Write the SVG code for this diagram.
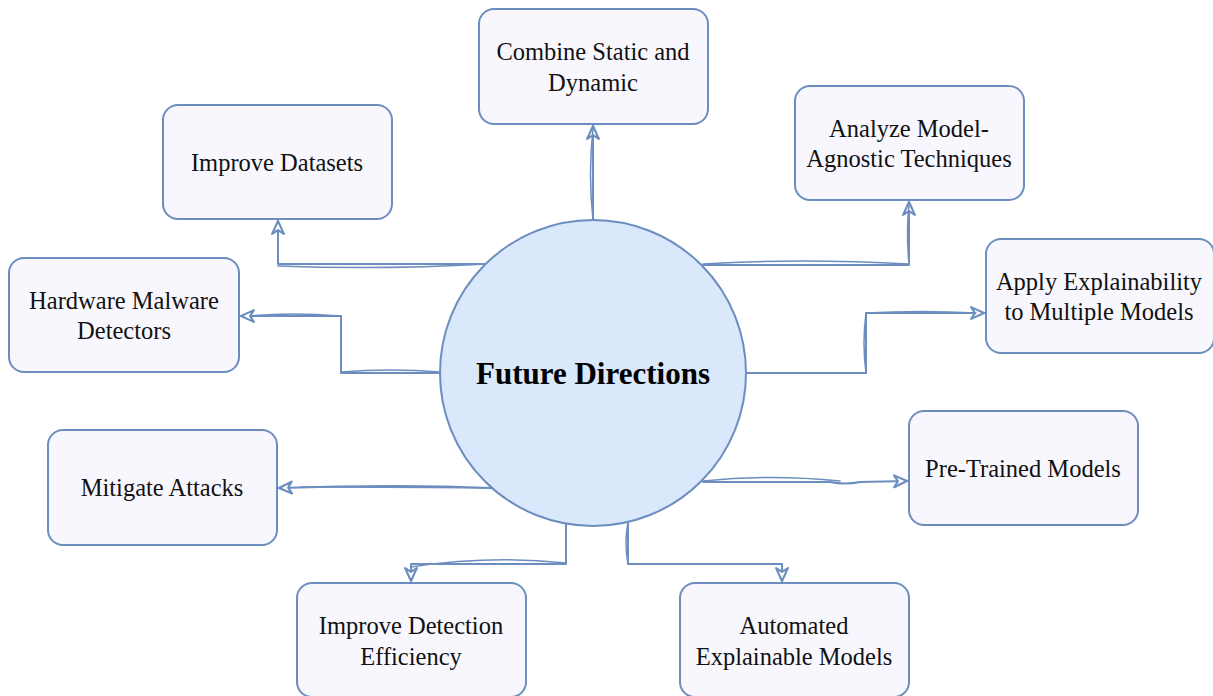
<svg xmlns="http://www.w3.org/2000/svg" width="1213" height="696" viewBox="0 0 1213 696">
<style>
.box{fill:#f8f7fe;stroke:#6c8ebf;stroke-width:2}
.hub{fill:#dae8fc;stroke:#6c8ebf;stroke-width:2}
.t{font-family:"Liberation Serif","Times New Roman",serif;font-size:24.5px;fill:#111;text-anchor:middle}
.h{font-family:"Liberation Serif","Times New Roman",serif;font-size:31px;font-weight:bold;fill:#000;text-anchor:middle}
.c{fill:none;stroke:#6c8ebf;stroke-width:2;stroke-linejoin:round;stroke-linecap:round}
.c2{fill:none;stroke:#6c8ebf;stroke-width:1.5;stroke-linecap:round}
</style>
<defs>
<marker id="arr" viewBox="0 0 14 14" refX="13" refY="7" markerWidth="15" markerHeight="15" markerUnits="userSpaceOnUse" orient="auto">
<path d="M1,1.5 L13,7 L1,12.5 L4.5,7 Z" fill="#ffffff" stroke="#6c8ebf" stroke-width="2" stroke-linejoin="round"/>
</marker>
</defs>
<rect width="1213" height="696" fill="#ffffff"/>
<g id="connectors">
<path class="c" d="M593,220 L593,126" marker-end="url(#arr)"/>
<path class="c2" d="M593,220 Q588,175 593,128"/>
<path class="c" d="M487,264 L278,264 L278,221" marker-end="url(#arr)"/>
<path class="c2" d="M487,264 Q380,270 278,266"/>
<path class="c" d="M440,373 L341,373 L341,316 L241,316" marker-end="url(#arr)"/>
<path class="c2" d="M440,372 Q390,368 341,372 M341,316 Q290,312 250,316"/>
<path class="c" d="M703,265 L909,265 L909,202" marker-end="url(#arr)"/>
<path class="c2" d="M703,264 Q800,258 909,264 M909,264 Q906,232 909,205"/>
<path class="c" d="M746,373 L866,373 L866,313 L984,313" marker-end="url(#arr)"/>
<path class="c2" d="M866,373 Q862,343 866,313 M866,313 Q920,310 976,313"/>
<path class="c" d="M703,482 L830,482 Q845,485 860,482 L907,481" marker-end="url(#arr)"/>
<path class="c2" d="M703,481 Q770,474 840,481"/>
<path class="c" d="M491,488 Q400,484 279,488" marker-end="url(#arr)"/>
<path class="c2" d="M491,488 Q420,487 300,487"/>
<path class="c" d="M566,524 L566,564 L411,564 L411,581" marker-end="url(#arr)"/>
<path class="c2" d="M566,563 Q490,555 411,567"/>
<path class="c" d="M628,522 L628,564 L782,564 L782,581" marker-end="url(#arr)"/>
<path class="c2" d="M628,522 Q624,543 628,564"/>
</g>
<g id="hub">
<circle class="hub" cx="593" cy="373" r="153"/>
<text class="h" x="593" y="384">Future Directions</text>
</g>
<g id="n-combine">
<rect class="box" x="479" y="9" width="229" height="115" rx="15"/>
<text class="t" x="593" y="60">Combine Static and</text>
<text class="t" x="593" y="91">Dynamic</text>
</g>
<g id="n-datasets">
<rect class="box" x="163" y="105" width="229" height="114" rx="15"/>
<text class="t" x="277" y="171">Improve Datasets</text>
</g>
<g id="n-analyze">
<rect class="box" x="795" y="86" width="229" height="114" rx="15"/>
<text class="t" x="909" y="137">Analyze Model-</text>
<text class="t" x="909" y="167">Agnostic Techniques</text>
</g>
<g id="n-hardware">
<rect class="box" x="9" y="258" width="230" height="114" rx="15"/>
<text class="t" x="124" y="309">Hardware Malware</text>
<text class="t" x="124" y="339">Detectors</text>
</g>
<g id="n-apply">
<rect class="box" x="986" y="239" width="228" height="114" rx="15"/>
<text class="t" x="1099" y="290">Apply Explainability</text>
<text class="t" x="1099" y="320">to Multiple Models</text>
</g>
<g id="n-mitigate">
<rect class="box" x="48" y="430" width="229" height="115" rx="15"/>
<text class="t" x="162" y="496">Mitigate Attacks</text>
</g>
<g id="n-pretrained">
<rect class="box" x="909" y="411" width="229" height="114" rx="15"/>
<text class="t" x="1023" y="477">Pre-Trained Models</text>
</g>
<g id="n-detection">
<rect class="box" x="297" y="583" width="229" height="114" rx="15"/>
<text class="t" x="411" y="634">Improve Detection</text>
<text class="t" x="411" y="665">Efficiency</text>
</g>
<g id="n-automated">
<rect class="box" x="680" y="583" width="229" height="114" rx="15"/>
<text class="t" x="794" y="634">Automated</text>
<text class="t" x="794" y="665">Explainable Models</text>
</g>
</svg>
